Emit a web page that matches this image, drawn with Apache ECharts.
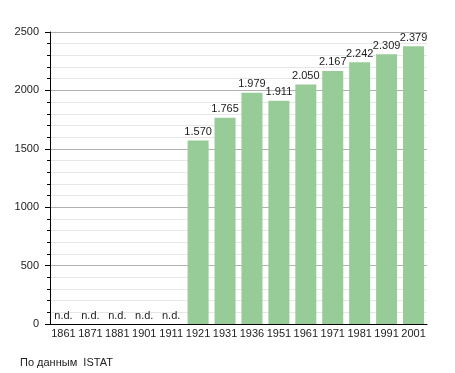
<!DOCTYPE html>
<html><head><meta charset="utf-8">
<script src="https://cdn.jsdelivr.net/npm/echarts@6/dist/echarts.min.js"></script>
<style>html,body{margin:0;padding:0;background:#fff}#c{width:455px;height:373px}</style>
</head><body><div id="c"></div>
<script>
const years = ['1861','1871','1881','1901','1911','1921','1931','1936','1951','1961','1971','1981','1991','2001'];
const population = [null,null,null,null,null,1570,1765,1979,1911,2050,2167,2242,2309,2379];
const yTicks = {min:0, max:2500, interval:500};
const sourceText = 'По данным  ISTAT';

function fmt(v){ const s=String(v); return s.length>3 ? s.slice(0,s.length-3)+'.'+s.slice(-3) : s; }

const data = population.map(v => v==null ? {value:0, label:{formatter:'n.d.'}} : v);
const chart = echarts.init(document.getElementById('c'));
chart.setOption({
  animation:false,
  textStyle:{fontFamily:'Liberation Sans, Arial, sans-serif'},
  grid:{left:50,right:28,top:32,bottom:49},
  graphic:[{type:'text',left:20,top:357,style:{text:sourceText,font:'11px Liberation Sans, Arial, sans-serif',fill:'#222'}}],
  xAxis:{type:'category',data:years,
    axisLine:{lineStyle:{color:'#000',width:1}},
    axisTick:{show:false},
    axisLabel:{color:'#222',fontSize:11,margin:4,interval:0}},
  yAxis:{type:'value',min:yTicks.min,max:yTicks.max,interval:yTicks.interval,
    axisLine:{show:true,lineStyle:{color:'#000'}},
    axisTick:{show:true,length:5,lineStyle:{color:'#000'}},
    minorTick:{show:true,splitNumber:5,length:3,lineStyle:{color:'#000'}},
    splitLine:{lineStyle:{color:'#b0b0b0'}},
    minorSplitLine:{show:true,lineStyle:{color:'#e6e6e6'}},
    axisLabel:{color:'#222',fontSize:11,margin:11,formatter:v=>String(v)}},
  series:[{type:'bar',data:data,barCategoryGap:'22%',
    itemStyle:{color:'#97cb97'},
    label:{show:true,position:'top',distance:3,color:'#222',fontSize:11,
      formatter:p=>fmt(p.value)}}]
});
</script></body></html>
